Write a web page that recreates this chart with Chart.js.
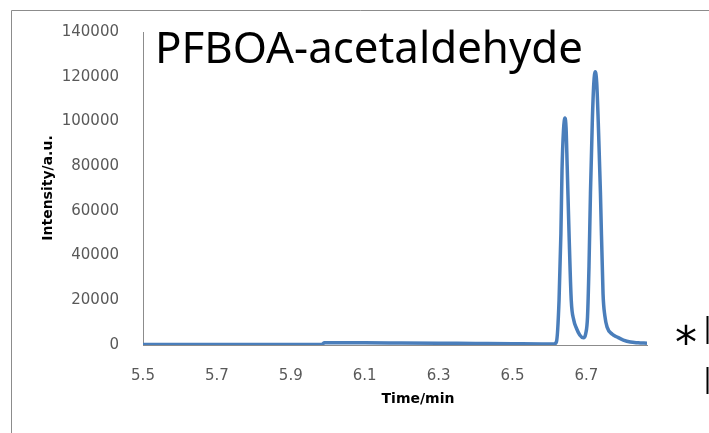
<!DOCTYPE html>
<html>
<head>
<meta charset="utf-8">
<script src="https://cdn.jsdelivr.net/npm/chart.js@4.4.0/dist/chart.umd.min.js"></script>
<style>
  body { margin: 0; background: #fff; }
  #wrap { width: 709px; height: 433px; }
</style>
</head>
<body>
<div id="wrap"><canvas id="myChart" width="709" height="433"></canvas></div>
<script>
// retention time (min) and detector intensity (a.u.)
var times = [5.50, 5.60, 5.70, 5.80, 5.90, 5.985, 5.99, 6.00, 6.10, 6.20, 6.30, 6.40, 6.50, 6.58, 6.612,
  6.619, 6.626, 6.631, 6.634, 6.638, 6.642, 6.645, 6.648, 6.653, 6.659, 6.666, 6.673, 6.682, 6.692,
  6.698, 6.703, 6.707, 6.711, 6.716, 6.720, 6.724, 6.728, 6.733, 6.738, 6.745, 6.750, 6.756, 6.770,
  6.783, 6.800, 6.819, 6.840, 6.864];
var intensity = [250, 250, 250, 250, 250, 250, 1000, 1000, 1000, 900, 800, 700, 600, 500, 400,
  1500, 20000, 50000, 78000, 96000, 101500, 97000, 80000, 50000, 20000, 11000, 7500, 4500, 3200,
  5000, 12500, 35000, 68000, 100000, 117000, 122200, 117000, 95000, 68000, 23000, 13000, 8000, 4800,
  3600, 2200, 1300, 1000, 800];
var xTicks = [5.5, 5.7, 5.9, 6.1, 6.3, 6.5, 6.7];
var yTicks = [0, 20000, 40000, 60000, 80000, 100000, 120000, 140000];
var chartTitle = "PFBOA-acetaldehyde";
var xTitle = "Time/min";
var yTitle = "Intensity/a.u.";

var points = times.map(function (t, i) { return { x: t, y: intensity[i] }; });

var extras = {
  id: 'extras',
  afterDraw: function (chart) {
    var ctx = chart.ctx;
    var area = chart.chartArea;
    ctx.save();
    // outer frame
    ctx.strokeStyle = '#8c8c8c';
    ctx.lineWidth = 1;
    ctx.beginPath();
    ctx.moveTo(11.5, 433);
    ctx.lineTo(11.5, 10.5);
    ctx.lineTo(709, 10.5);
    ctx.stroke();

    // big title inside the plot
    ctx.fillStyle = '#000';
    ctx.textBaseline = 'alphabetic';
    ctx.textAlign = 'left';
    var size = 46;
    ctx.font = size + 'px "Noto Sans"';
    var w = ctx.measureText(chartTitle).width;
    size = size * 428 / w;
    ctx.font = size + 'px "Noto Sans"';
    ctx.fillText(chartTitle, 155, 63);

    // axis titles
    ctx.fillStyle = '#000';
    ctx.font = 'bold 14px "DejaVu Sans"';
    ctx.textAlign = 'center';
    ctx.textBaseline = 'middle';
    ctx.fillText(xTitle, 418, 399);
    ctx.save();
    ctx.translate(48, 188);
    ctx.rotate(-Math.PI / 2);
    ctx.fillText(yTitle, 0, 0);
    ctx.restore();

    // marker at right edge
    ctx.font = '44px "DejaVu Sans"';
    ctx.textAlign = 'center';
    ctx.textBaseline = 'alphabetic';
    ctx.fillText('*', 686, 358);
    ctx.fillStyle = '#000';
    ctx.fillRect(706.5, 316, 2, 28);
    ctx.fillRect(706.5, 367, 2, 27);
    ctx.restore();
  }
};

var ctx = document.getElementById("myChart").getContext('2d');
var myChart = new Chart(ctx, {
  type: 'line',
  data: {
    datasets: [{
      data: points,
      borderColor: '#4a7ebb',
      borderWidth: 3.5,
      pointRadius: 0,
      fill: false,
      cubicInterpolationMode: 'monotone'
    }]
  },
  options: {
    responsive: false,
    animation: false,
    layout: { padding: { left: 0, top: 32, right: 62, bottom: 0 } },
    plugins: { legend: { display: false }, tooltip: { enabled: false } },
    scales: {
      x: {
        type: 'linear',
        min: 5.5,
        max: 6.864,
        grid: { display: false },
        border: { display: true, color: '#8c8c8c', width: 1 },
        afterBuildTicks: function (scale) {
          scale.ticks = xTicks.map(function (v) { return { value: v }; });
        },
        afterFit: function (scale) { scale.height = 88; },
        ticks: {
          padding: 14,
          color: '#595959',
          font: { family: 'DejaVu Sans', size: 15 },
          maxRotation: 0,
          callback: function (v) { return Number(v).toFixed(1); }
        }
      },
      y: {
        min: 0,
        max: 140000,
        grid: { display: false },
        border: { display: true, color: '#8c8c8c', width: 1 },
        afterBuildTicks: function (scale) {
          scale.ticks = yTicks.map(function (v) { return { value: v }; });
        },
        afterFit: function (scale) { scale.width = 143; },
        ticks: {
          padding: 16,
          color: '#595959',
          font: { family: 'DejaVu Sans', size: 15 },
          callback: function (v) { return String(v); }
        }
      }
    }
  },
  plugins: [extras]
});
</script>
</body>
</html>
